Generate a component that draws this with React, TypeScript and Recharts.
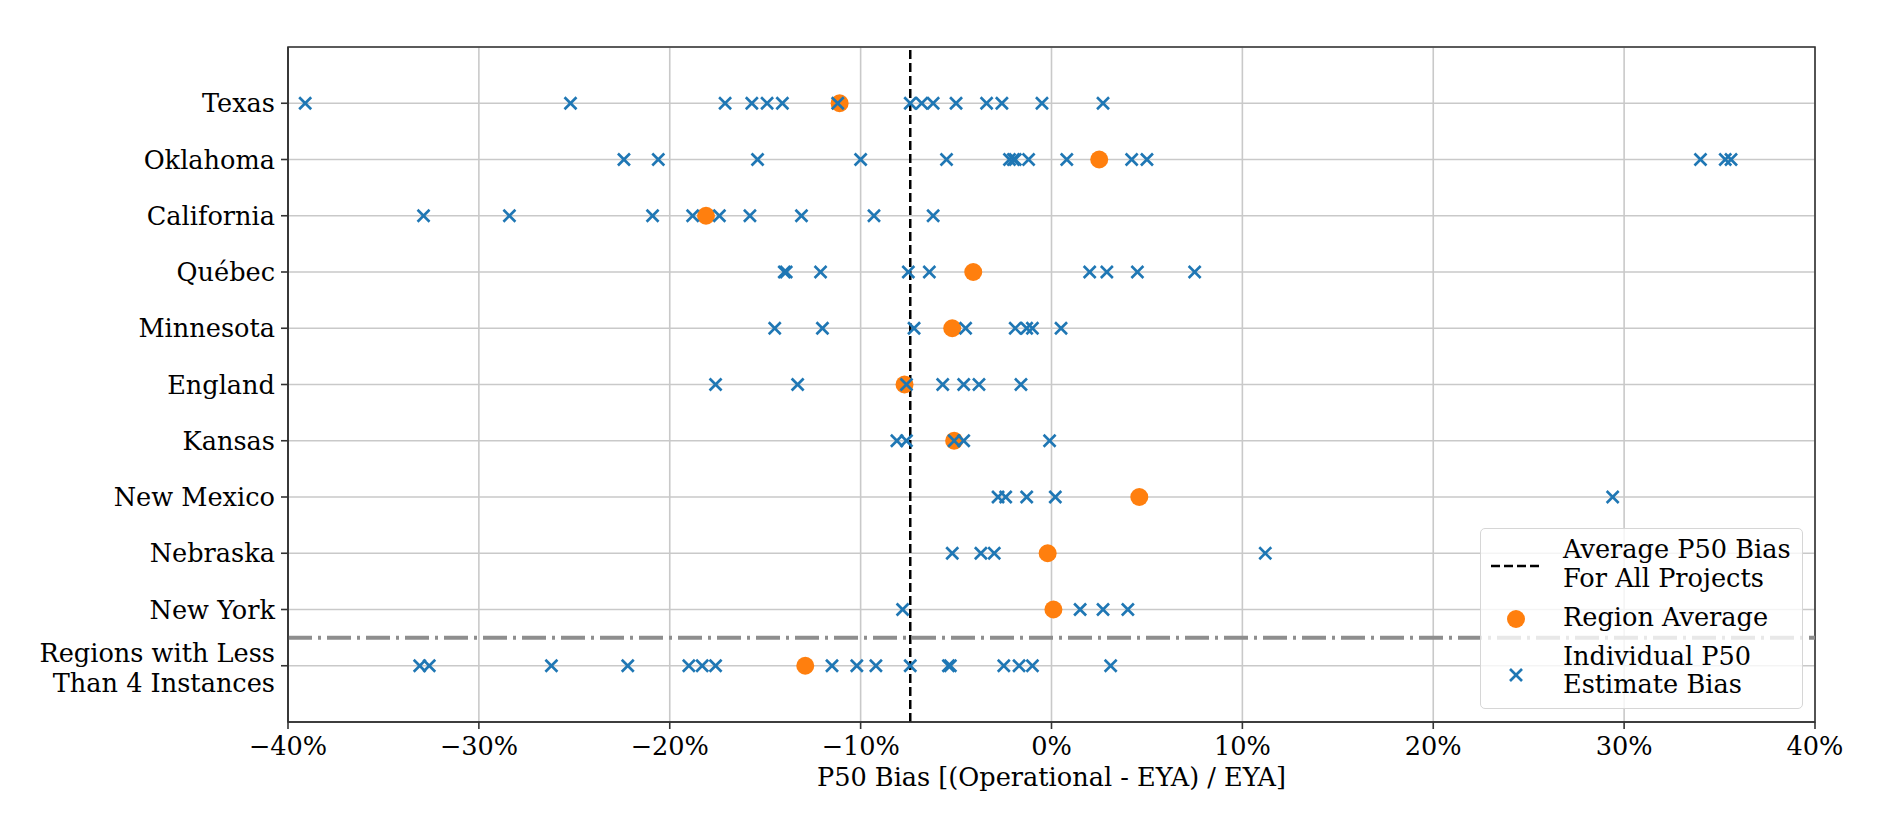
import { ScatterChart, Scatter, XAxis, YAxis, CartesianGrid, ReferenceLine, ReferenceArea, Label } from 'recharts'

const FONT = '"DejaVu Serif", serif'
const FS = 25.6
const BLUE = '#1f77b4'
const ORANGE = '#ff7f0e'

// top to bottom, as drawn
const REGIONS = [
  'Texas', 'Oklahoma', 'California', 'Québec', 'Minnesota', 'England',
  'Kansas', 'New Mexico', 'Nebraska', 'New York', 'Regions with Less\nThan 4 Instances',
]

const texas      = [-39.1, -25.2, -17.1, -15.7, -14.9, -14.1, -11.2, -7.4, -6.8, -6.2, -5.0, -3.4, -2.6, -0.5, 2.7]
const oklahoma   = [-22.4, -20.6, -15.4, -10.0, -5.5, -2.2, -2.0, -1.9, -1.2, 0.8, 4.2, 5.0, 34.0, 35.3, 35.6]
const california = [-32.9, -28.4, -20.9, -18.8, -17.4, -15.8, -13.1, -9.3, -6.2]
const quebec     = [-14.0, -13.9, -12.1, -7.5, -6.4, 2.0, 2.9, 4.5, 7.5]
const minnesota  = [-14.5, -12.0, -7.2, -4.5, -1.9, -1.3, -1.0, 0.5]
const england    = [-17.6, -13.3, -7.6, -5.7, -4.6, -3.8, -1.6]
const kansas     = [-8.1, -7.6, -5.1, -4.6, -0.1]
const newMexico  = [-2.8, -2.4, -1.3, 0.2, 29.4]
const nebraska   = [-5.2, -3.7, -3.0, 11.2]
const newYork    = [-7.8, 1.5, 2.7, 4.0]
const fewRegions = [-33.1, -32.6, -26.2, -22.2, -19.0, -18.3, -17.6, -11.5, -10.2, -9.2, -7.4, -5.4, -5.3, -2.5, -1.7, -1.0, 3.1]

const INDIVIDUAL = [texas, oklahoma, california, quebec, minnesota, england, kansas, newMexico, nebraska, newYork, fewRegions]
const AVERAGES = [-11.1, 2.5, -18.1, -4.1, -5.2, -7.7, -5.1, 4.6, -0.2, 0.1, -12.9]
const OVERALL_AVG = -7.4

const X_TICKS = [-40, -30, -20, -10, 0, 10, 20, 30, 40]
const Y_TICKS = REGIONS.map((_, i) => i)

const rowY = (i: number) => REGIONS.length - 1 - i

const pointData = INDIVIDUAL.flatMap((vals, i) => vals.map(v => ({ x: v, y: rowY(i) })))
const avgData = AVERAGES.map((v, i) => ({ x: v, y: rowY(i) }))

const fmtPct = (v: number) => (v < 0 ? '\u2212' + Math.abs(v) : String(v)) + '%'

function Cross({ cx, cy }: any) {
  const s = 6
  return (
    <g stroke={BLUE} strokeWidth={2.6}>
      <line x1={cx - s} y1={cy - s} x2={cx + s} y2={cy + s} />
      <line x1={cx - s} y1={cy + s} x2={cx + s} y2={cy - s} />
    </g>
  )
}

function Dot({ cx, cy }: any) {
  return <circle cx={cx} cy={cy} r={9} fill={ORANGE} />
}

function XTick({ x, y, payload }: any) {
  return (
    <text x={x} y={y} dy={22} textAnchor="middle" fontSize={FS} fontFamily={FONT} fill="#000">
      {fmtPct(payload.value)}
    </text>
  )
}

function YTick({ x, y, payload }: any) {
  const name = REGIONS[REGIONS.length - 1 - payload.value] || ''
  const lines = name.split('\n')
  if (lines.length > 1)
    return (
      <text x={x} y={y} textAnchor="end" fontSize={FS} fontFamily={FONT} fill="#000">
        <tspan x={x} dy={-4}>{lines[0]}</tspan>
        <tspan x={x} dy={30}>{lines[1]}</tspan>
      </text>
    )
  return (
    <text x={x} y={y} dy={9} textAnchor="end" fontSize={FS} fontFamily={FONT} fill="#000">
      {name}
    </text>
  )
}

function XLabel({ viewBox }: any) {
  const { x, y, width } = viewBox
  return (
    <text x={x + width / 2} y={y + 64} textAnchor="middle" fontSize={FS} fontFamily={FONT} fill="#000">
      P50 Bias [(Operational - EYA) / EYA]
    </text>
  )
}

function LegendBox() {
  const t = { fontSize: FS, fontFamily: FONT, fill: '#000' }
  return (
    <div style={{
      position: 'absolute', left: 1480, top: 528, width: 323, height: 181, boxSizing: 'border-box',
      background: 'rgba(255,255,255,0.8)', border: '1.5px solid #d6d6d6', borderRadius: 5,
    }}>
      <svg width={320} height={178} style={{ position: 'absolute', left: 0, top: 0 }}>
        <line x1={10} y1={37} x2={62} y2={37} stroke="#000" strokeWidth={2.5} strokeDasharray="9 4" />
        <text x={82} y={29} {...t}>Average P50 Bias</text>
        <text x={82} y={58} {...t}>For All Projects</text>
        <circle cx={35} cy={90} r={9} fill={ORANGE} />
        <text x={82} y={97} {...t}>Region Average</text>
        <Cross cx={35} cy={146} />
        <text x={82} y={136} {...t}>Individual P50</text>
        <text x={82} y={164} {...t}>Estimate Bias</text>
      </svg>
    </div>
  )
}

export default function App() {
  return (
    <div style={{ position: 'absolute', left: 0, top: 0, width: 1892, height: 825, background: '#fff' }}>
      <ScatterChart width={1892} height={825} margin={{ top: 47, right: 77, bottom: 0, left: 0 }}>
        <CartesianGrid stroke="#c9c9c9" strokeWidth={1.6} />
        <XAxis
          type="number" dataKey="x" domain={[-40, 40]} ticks={X_TICKS} interval={0} allowDataOverflow
          height={103} tickSize={7} tickMargin={4} tick={<XTick />}
          axisLine={{ stroke: '#333', strokeWidth: 1.6 }} tickLine={{ stroke: '#333', strokeWidth: 1.6 }}
        >
          <Label content={<XLabel />} />
        </XAxis>
        <YAxis
          type="number" dataKey="y" domain={[-1, 11]} ticks={Y_TICKS} interval={0} allowDataOverflow
          width={288} tickSize={7} tickMargin={6} tick={<YTick />}
          axisLine={{ stroke: '#333', strokeWidth: 1.6 }} tickLine={{ stroke: '#333', strokeWidth: 1.6 }}
        />
        <ReferenceLine y={0.5} stroke="#8e8e8e" strokeWidth={4} strokeDasharray="24 6 3 6" />
        <Scatter data={avgData} shape={<Dot />} isAnimationActive={false} />
        <Scatter data={pointData} shape={<Cross />} isAnimationActive={false} />
        <ReferenceLine x={OVERALL_AVG} stroke="#000" strokeWidth={2.5} strokeDasharray="9 4" />
        <ReferenceArea x1={-40} x2={40} y1={-1} y2={11} fill="none" stroke="#333" strokeWidth={1.6} />
      </ScatterChart>
      <LegendBox />
    </div>
  )
}
